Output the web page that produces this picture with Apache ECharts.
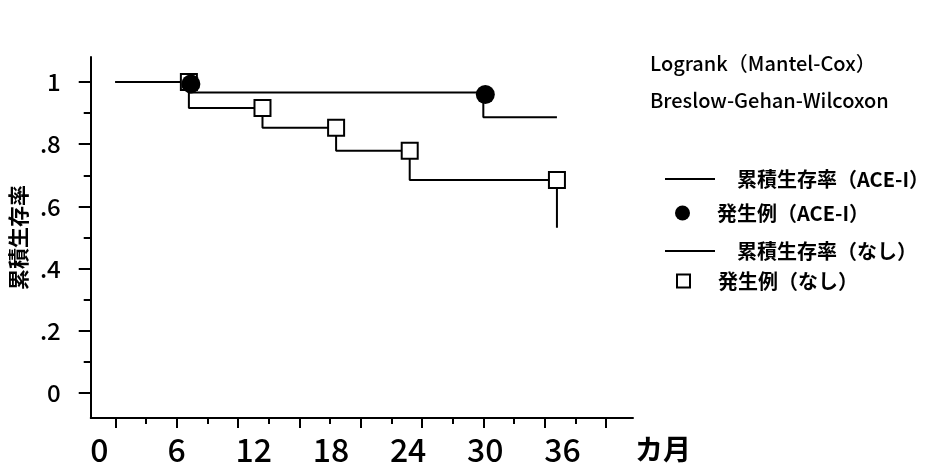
<!DOCTYPE html>
<html>
<head>
<meta charset="utf-8">
<script src="https://cdn.jsdelivr.net/npm/echarts@6/dist/echarts.min.js"></script>
<style>
  html, body { margin: 0; padding: 0; background: #fff; }
  #chart { width: 940px; height: 467px; }
</style>
</head>
<body>
<div id="chart"></div>
<script>
// Kaplan-Meier cumulative survival, step points (months, survival)
const aceMonths = [0, 6, 30, 36];
const aceSurvival = [1, 0.966, 0.886, 0.886];
const noneMonths = [0, 6, 12, 18, 24, 36];
const noneSurvival = [1, 0.916, 0.853, 0.779, 0.685, 0.531];

// Events, marked at the survival level just before each drop
const aceEventMonths = [6, 30];
const aceEventSurvival = [1, 0.966];
const noneEventMonths = [6, 12, 18, 24, 36];
const noneEventSurvival = [1, 0.916, 0.853, 0.779, 0.685];

const seriesNames = ['累積生存率（ACE-I）', '発生例（ACE-I）', '累積生存率（なし）', '発生例（なし）'];
const testNames = ['Logrank（Mantel-Cox）', 'Breslow-Gehan-Wilcoxon'];

// Axis ticks and labels
const yTicks = [0, 0.2, 0.4, 0.6, 0.8, 1];
const yTickLabels = ['0', '.2', '.4', '.6', '.8', '1'];
const yMinorTicks = [0.1, 0.3, 0.5, 0.7, 0.9];
const xMajorTicks = [0, 5, 10, 15, 20, 25, 30, 35, 40];
const xMinorTicks = [2.5, 7.5, 12.5, 17.5, 22.5, 27.5, 32.5, 37.5];
const xLabelMonths = [0, 6, 12, 18, 24, 30, 36];
const yTitle = '累積生存率';
const xUnit = 'カ月';

const FONT = '"Noto Sans CJK JP", "Noto Sans", sans-serif';
const INK = '#000';

function pairs(xs, ys) { return xs.map((x, i) => [x, ys[i]]); }
function yLabel(v) {
  const i = yTicks.findIndex(t => Math.abs(t - v) < 1e-9);
  return i >= 0 ? yTickLabels[i] : '';
}

const chart = echarts.init(document.getElementById('chart'), null, { renderer: 'canvas' });

const baseX = { type: 'value', min: -2, max: 42.2, position: 'bottom', splitLine: { show: false } };
const baseY = { type: 'value', min: -0.08, max: 1.08, position: 'left', splitLine: { show: false } };
const legendText = { fontFamily: FONT, fontSize: 20, fontWeight: 'bold', color: INK };

chart.setOption({
  backgroundColor: '#fff',
  animation: false,
  textStyle: { fontFamily: FONT, color: INK },
  title: {
    text: testNames.join('\n'),
    left: 645, top: 40,
    textStyle: { fontFamily: FONT, fontSize: 20, fontWeight: 500, lineHeight: 37, color: INK }
  },
  legend: [
    { data: [seriesNames[0]], left: 660, top: 164, icon: 'rect', itemWidth: 50, itemHeight: 2,
      textStyle: Object.assign({ padding: [0, 0, 0, 17] }, legendText) },
    { data: [seriesNames[1]], left: 670, top: 198, icon: 'circle', itemWidth: 15, itemHeight: 15,
      itemStyle: { color: INK, opacity: 1 },
      textStyle: Object.assign({ padding: [0, 0, 0, 22] }, legendText) },
    { data: [seriesNames[2]], left: 660, top: 236, icon: 'rect', itemWidth: 50, itemHeight: 2,
      textStyle: Object.assign({ padding: [0, 0, 0, 17] }, legendText) },
    { data: [seriesNames[3]], left: 671, top: 266, icon: 'rect', itemWidth: 13, itemHeight: 13,
      itemStyle: { color: '#fff', borderColor: INK, borderWidth: 2, opacity: 1 },
      textStyle: Object.assign({ padding: [0, 0, 0, 23] }, legendText) }
  ],
  grid: { left: 88, top: 57, right: 307, bottom: 49, containLabel: false },
  xAxis: [
    Object.assign({}, baseX, {
      axisLine: { show: true, onZero: false, lineStyle: { color: INK, width: 2 } },
      axisTick: { show: true, customValues: xMajorTicks, length: 10, lineStyle: { color: INK, width: 2 } },
      axisLabel: { show: false }
    }),
    Object.assign({}, baseX, {
      axisLine: { show: false, onZero: false },
      axisTick: { show: true, customValues: xMinorTicks, length: 6, lineStyle: { color: INK, width: 2 } },
      axisLabel: { show: false }
    }),
    {
      type: 'value', min: -0.67, max: 41.48, position: 'bottom', splitLine: { show: false },
      axisLine: { show: false, onZero: false },
      axisTick: { show: false },
      axisLabel: { show: true, customValues: xLabelMonths, margin: 16, fontSize: 32, fontWeight: 500,
                   fontFamily: FONT, color: INK },
      name: xUnit, nameLocation: 'end', nameGap: 2,
      nameTextStyle: { fontFamily: FONT, fontSize: 28, fontWeight: 'bold', color: INK,
                       align: 'left', verticalAlign: 'top', padding: [17, 0, 0, 0] }
    }
  ],
  yAxis: [
    Object.assign({}, baseY, {
      axisLine: { show: true, onZero: false, lineStyle: { color: INK, width: 2 } },
      axisTick: { show: true, customValues: yTicks, length: 12, lineStyle: { color: INK, width: 2 } },
      axisLabel: { show: true, customValues: yTicks, formatter: yLabel, margin: 30,
                   fontSize: 24, fontWeight: 500, fontFamily: FONT, color: INK },
      name: yTitle, nameLocation: 'middle', nameRotate: 90, nameGap: 56,
      nameTextStyle: { fontFamily: FONT, fontSize: 21, fontWeight: 'bold', color: INK }
    }),
    Object.assign({}, baseY, {
      axisLine: { show: false, onZero: false },
      axisTick: { show: true, customValues: yMinorTicks, length: 7, lineStyle: { color: INK, width: 2 } },
      axisLabel: { show: false }
    })
  ],
  series: [
    {
      name: seriesNames[0], type: 'line', step: 'end', xAxisIndex: 0, yAxisIndex: 0,
      data: pairs(aceMonths, aceSurvival), symbol: 'none',
      lineStyle: { color: INK, width: 2 }, itemStyle: { color: INK }, z: 2
    },
    {
      name: seriesNames[2], type: 'line', step: 'end', xAxisIndex: 0, yAxisIndex: 0,
      data: pairs(noneMonths, noneSurvival), symbol: 'none',
      lineStyle: { color: INK, width: 2 }, itemStyle: { color: INK }, z: 2
    },
    {
      name: seriesNames[3], type: 'scatter', xAxisIndex: 0, yAxisIndex: 0,
      data: pairs(noneEventMonths, noneEventSurvival), symbol: 'rect', symbolSize: 16,
      itemStyle: { color: '#fff', borderColor: INK, borderWidth: 2, opacity: 1 }, z: 3
    },
    {
      name: seriesNames[1], type: 'scatter', xAxisIndex: 0, yAxisIndex: 0,
      data: pairs(aceEventMonths, aceEventSurvival), symbol: 'circle', symbolSize: 19,
      symbolOffset: [2, 2], itemStyle: { color: INK, opacity: 1 }, z: 4
    }
  ]
});
</script>
</body>
</html>
